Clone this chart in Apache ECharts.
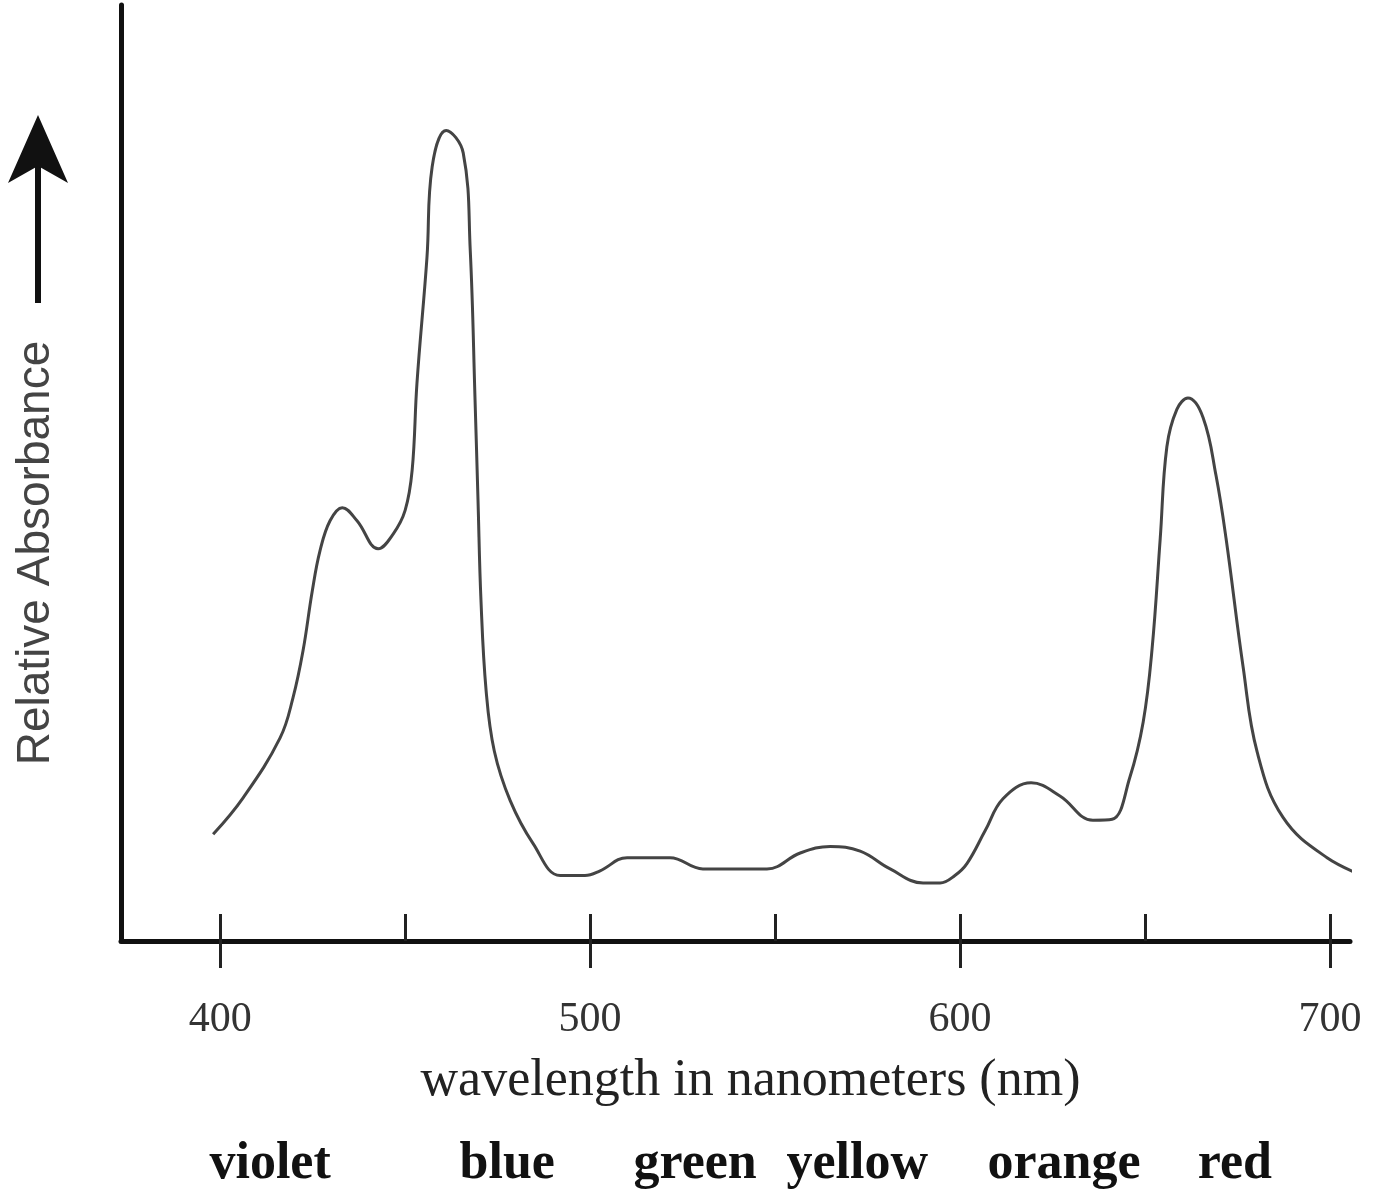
<!DOCTYPE html>
<html lang="en">
<head>
<meta charset="utf-8" />
<title>Relative Absorbance</title>
<script src="https://cdn.jsdelivr.net/npm/echarts@6/dist/echarts.min.js"></script>
<style>
	html, body { margin: 0; padding: 0; background: #fff; }
	#chart { width: 1381px; height: 1200px; }
</style>
</head>
<body>
<div id="chart"></div>
<script>
// wavelength (nm) and relative absorbance (0-100, top of the y axis = 100)
var wavelengths = [398.1, 406.2, 416.2, 419.7, 422.4, 424.9, 427.0, 429.7, 433.0, 437.0,
	442.7, 446.8, 450.0, 451.9, 453.2, 455.9, 457.3, 461.1, 465.7, 467.6,
	468.9, 469.7, 470.5, 471.9, 474.1, 478.4, 484.6, 491.9, 498.6, 502.7,
	510.0, 521.6, 530.5, 547.8, 556.8, 564.9, 573.0, 581.1, 590.0, 594.6,
	598.6, 601.9, 606.8, 611.6, 619.2, 627.0, 635.9, 641.1, 645.9, 649.5,
	651.9, 654.1, 655.9, 658.6, 661.6, 665.7, 669.2, 671.9, 676.5, 680.3,
	687.3, 699.2, 711.4];
var absorbance = [11.4, 15.3, 21.7, 26.0, 31.0, 37.4, 41.7, 44.9, 46.3, 44.9,
	41.9, 43.5, 46.0, 50.3, 59.6, 73.0, 82.7, 86.6, 84.2, 73.8,
	57.8, 47.1, 36.4, 26.7, 20.3, 15.0, 10.4, 7.0, 7.0, 7.5,
	8.9, 8.9, 7.7, 7.7, 9.4, 10.1, 9.6, 7.7, 6.2, 6.2,
	7.0, 8.3, 11.8, 15.2, 16.9, 15.5, 12.9, 13.0, 17.5, 23.4,
	31.2, 43.0, 52.8, 56.8, 58.0, 55.9, 49.7, 43.0, 29.3, 20.2,
	13.2, 8.9, 6.6];

var majorTicks = [400, 500, 600, 700];
var minorTicks = [400, 450, 500, 550, 600, 650, 700];
var bandNames = ['violet', 'blue', 'green', 'yellow', 'orange', 'red'];
var bandCenters = [413.5, 477.6, 528.4, 572.2, 628.1, 674.3];

var xMin = 373.2, xMax = 705.4;

var points = wavelengths.map(function (w, i) { return [w, absorbance[i]]; });

var chart = echarts.init(document.getElementById('chart'));

chart.setOption({
	animation: false,
	backgroundColor: '#fff',
	grid: { left: 121, right: 31, top: 5, bottom: 259 },
	xAxis: [
		{
			type: 'value', min: xMin, max: xMax, position: 'bottom',
			axisLine: { onZero: false, lineStyle: { color: '#111', width: 5 } },
			axisTick: { customValues: minorTicks, inside: true, length: 27, lineStyle: { color: '#222', width: 3 } },
			axisLabel: { customValues: majorTicks, margin: 58, fontFamily: 'Liberation Serif', fontSize: 42, color: '#333' },
			splitLine: { show: false },
			name: 'wavelength in nanometers (nm)',
			nameLocation: 'middle',
			nameGap: 114,
			nameTextStyle: { fontFamily: 'Liberation Serif', fontSize: 52, color: '#222', padding: [0, 0, 0, 30] }
		},
		{
			type: 'value', min: xMin, max: xMax, position: 'bottom',
			axisLine: { show: false, onZero: false },
			axisTick: { customValues: majorTicks, inside: false, length: 27, lineStyle: { color: '#222', width: 3 } },
			axisLabel: { show: false },
			splitLine: { show: false }
		},
		{
			type: 'value', min: xMin, max: xMax, position: 'bottom',
			axisLine: { show: false, onZero: false },
			axisTick: { show: false },
			axisLabel: {
				customValues: bandCenters, margin: 198,
				fontFamily: 'Liberation Serif', fontWeight: 'bold', fontSize: 52, color: '#111',
				formatter: function (v) {
					for (var i = 0; i < bandCenters.length; i++) {
						if (Math.abs(bandCenters[i] - v) < 0.01) return bandNames[i];
					}
					return '';
				}
			},
			splitLine: { show: false }
		}
	],
	yAxis: {
		type: 'value', min: 0, max: 100,
		axisLine: { show: true, lineStyle: { color: '#111', width: 5 } },
		axisTick: { show: false },
		axisLabel: { show: false },
		splitLine: { show: false }
	},
	graphic: [
		{
			type: 'text', x: 36, y: 553, rotation: Math.PI / 2,
			style: {
				text: 'Relative Absorbance', fontFamily: 'Liberation Sans', fontSize: 46, fill: '#444',
				align: 'center', verticalAlign: 'middle', textAlign: 'center', textVerticalAlign: 'middle'
			}
		},
		{ type: 'line', shape: { x1: 38, y1: 303, x2: 38, y2: 160 }, style: { stroke: '#111', lineWidth: 6 } },
		{ type: 'polygon', shape: { points: [[38, 115], [8, 183], [38, 166], [68, 183]] }, style: { fill: '#111' } }
	],
	series: [{
		type: 'line',
		data: points,
		smooth: 0.4,
		showSymbol: false,
		clip: false,
		lineStyle: { color: '#444', width: 3 }
	}]
});

window.addEventListener('resize', function () { chart.resize(); });
</script>
</body>
</html>
